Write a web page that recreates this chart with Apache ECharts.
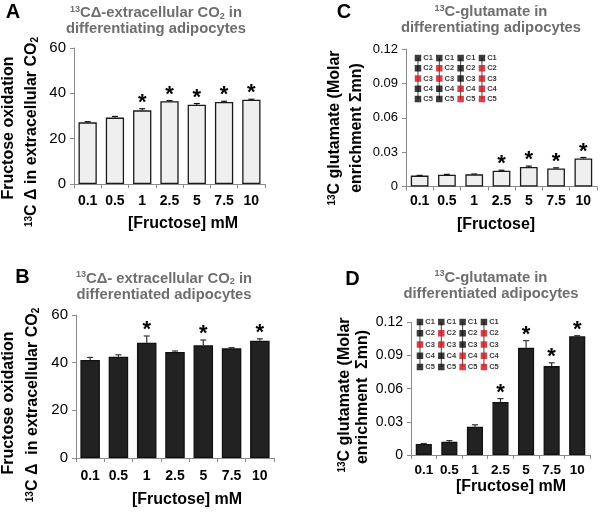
<!DOCTYPE html>
<html>
<head>
<meta charset="utf-8">
<script src="https://cdn.jsdelivr.net/npm/echarts@6/dist/echarts.min.js"></script>
<style>html,body{margin:0;padding:0;background:#fff}#c{width:600px;height:514px}</style>
</head>
<body>
<div id="c"></div>
<script>
// ---- data ----
const categories = ['0.1', '0.5', '1', '2.5', '5', '7.5', '10'];
const valuesA = [27.2, 29.3, 32.5, 36.5, 35.0, 36.2, 37.2];
const errorsA = [0.3, 0.5, 0.7, 0.3, 0.5, 0.3, 0.2];
const sigA = [0, 0, 1, 1, 1, 1, 1];
const valuesB = [41.1, 42.5, 48.4, 44.5, 47.3, 46.0, 49.2];
const errorsB = [1.1, 0.8, 2.8, 0.4, 2.2, 0.3, 0.8];
const sigB = [0, 0, 1, 0, 1, 0, 1];
const valuesC = [0.0095, 0.0103, 0.0106, 0.0138, 0.0170, 0.0158, 0.0245];
const errorsC = [0.0002, 0.0003, 0.0003, 0.0004, 0.0008, 0.0005, 0.0008];
const sigC = [0, 0, 0, 1, 1, 1, 1];
const valuesD = [0.0099, 0.0120, 0.0255, 0.0480, 0.0969, 0.0804, 0.1074];
const errorsD = [0.0005, 0.0010, 0.0018, 0.0030, 0.0065, 0.0030, 0.0005];
const sigD = [0, 0, 0, 1, 1, 1, 1];
const ticksAB = { min: 0, max: 60, interval: 20 };
const ticksCD = { min: 0, max: 0.12, interval: 0.03 };
const insetRows = ['C1', 'C2', 'C3', 'C4', 'C5'];
const insetLabelled = [[0, 0, 1, 0, 0], [0, 1, 1, 0, 0], [0, 0, 0, 1, 1], [0, 1, 1, 1, 1]];

// ---- styling ----
const FONT = '"Liberation Sans", Arial, Helvetica, sans-serif';
const AXC = '#8a8a8a';

const chart = echarts.init(document.getElementById('c'), null, { renderer: 'canvas' });

function grids() {
  return [
    { left: 74, top: 48, width: 191, height: 136 },
    { left: 76, top: 315, width: 198, height: 143 },
    { left: 406, top: 49, width: 191, height: 137.5 },
    { left: 411, top: 322.3, width: 179, height: 132.7 },
    { left: 407.3, top: 52.9, width: 85.3, height: 51.25 },
    { left: 409.3, top: 316.4, width: 85.3, height: 56.25 }
  ];
}

function xCat(gi, fs, margin, nameGap, pad) {
  return {
    type: 'category', gridIndex: gi, data: categories,
    axisLine: { lineStyle: { color: AXC, width: 1 } },
    axisTick: { show: true, length: 4, lineStyle: { color: AXC } },
    axisLabel: { color: '#000', fontWeight: 'bold', fontSize: fs, fontFamily: FONT, margin: margin, interval: 0 },
    name: gi === 2 ? '[Fructose]' : '[Fructose] mM',
    nameLocation: 'middle', nameGap: nameGap,
    nameTextStyle: { color: '#000', fontWeight: 'bold', fontSize: 16, fontFamily: FONT, padding: pad }
  };
}
function yVal(gi, ticks, fs, fmt) {
  return {
    type: 'value', gridIndex: gi, min: ticks.min, max: ticks.max, interval: ticks.interval,
    axisLine: { show: true, lineStyle: { color: AXC, width: 1 } },
    axisTick: { show: true, length: 4, lineStyle: { color: AXC } },
    splitLine: { show: false },
    axisLabel: { color: '#000', fontSize: fs, fontFamily: FONT, margin: 8, formatter: fmt }
  };
}
const fmtCD = v => (v === 0 ? '0' : v.toFixed(2));

function barSeries(gi, values, fill, border, gap) {
  return {
    type: 'bar', xAxisIndex: gi, yAxisIndex: gi, data: values, barCategoryGap: gap,
    itemStyle: { color: fill, borderColor: border, borderWidth: 1.3 },
    silent: true, animation: false
  };
}
function errSeries(gi, values, errors, sig, color) {
  return {
    type: 'custom', xAxisIndex: gi, yAxisIndex: gi, animation: false, silent: true,
    data: values.map((v, i) => [i, v, errors[i], sig[i]]),
    encode: { x: 0, y: 1 },
    renderItem: function (params, api) {
      const i = api.value(0), v = api.value(1), e = api.value(2), s = api.value(3);
      const base = api.coord([i, v]);
      const top = api.coord([i, v + e]);
      const children = [
        { type: 'line', shape: { x1: base[0], y1: base[1], x2: top[0], y2: top[1] }, style: { stroke: color, lineWidth: 1.2 } },
        { type: 'line', shape: { x1: top[0] - 3, y1: top[1], x2: top[0] + 3, y2: top[1] }, style: { stroke: color, lineWidth: 1.2 } }
      ];
      if (s) {
        children.push({ type: 'text', x: top[0], y: top[1] - 6,
          style: { text: '*', fill: '#000', font: 'bold 22px ' + FONT, align: 'center', verticalAlign: 'middle' } });
      }
      return { type: 'group', children: children };
    }
  };
}
function insetAxes(gi) {
  return {
    x: { type: 'value', gridIndex: gi, min: -0.5, max: 3.5, show: false },
    y: { type: 'value', gridIndex: gi, min: -0.5, max: 4.5, inverse: true, show: false }
  };
}
function insetSeries(gi) {
  const pts = [];
  insetLabelled.forEach((col, c) => col.forEach((lab, r) => {
    pts.push({ value: [c, r], itemStyle: { color: lab ? '#c8141c' : '#0a0a0a' } });
  }));
  return [
    {
      type: 'custom', xAxisIndex: gi, yAxisIndex: gi, animation: false, silent: true,
      data: insetLabelled.map((col, c) => [c]),
      encode: { x: 0 },
      renderItem: function (params, api) {
        const c = api.value(0);
        const a = api.coord([c, 0]), b = api.coord([c, insetRows.length - 1]);
        return { type: 'line', shape: { x1: a[0], y1: a[1], x2: b[0], y2: b[1] }, style: { stroke: '#444', lineWidth: 1 } };
      }
    },
    {
      type: 'scatter', xAxisIndex: gi, yAxisIndex: gi, animation: false, silent: true,
      symbol: 'rect', symbolSize: 6.5, data: pts,
      label: { show: true, position: 'right', distance: 2, fontSize: 7.5, fontWeight: 'bold', color: '#000', fontFamily: FONT,
        formatter: p => insetRows[p.value[1]] }
    }
  ];
}

const insC = insetAxes(4), insD = insetAxes(5);

function yTitle(x, y, text, fs) {
  return { type: 'text', x: x, y: y, rotation: Math.PI / 2, silent: true,
    style: { text: text, fill: '#000', font: 'bold ' + fs + 'px ' + FONT, align: 'center', verticalAlign: 'middle',
      rich: { sup: { fontSize: 10, fontWeight: 'bold', fontFamily: FONT, verticalAlign: 'top', fill: '#000' },
              sub: { fontSize: 10, fontWeight: 'bold', fontFamily: FONT, verticalAlign: 'bottom', fill: '#000' },
              n: { fontSize: fs, fontWeight: 'bold', fontFamily: FONT, fill: '#000' } } } };
}

const TFS = 14.8, TLH = 16, TCOL = '#6e6e6e';
function panelTitle(x, top, text) {
  return { text: text, left: x, top: top, textAlign: 'center', padding: 0,
    textStyle: { color: TCOL, fontSize: TFS, fontWeight: 'bold', fontFamily: FONT, lineHeight: TLH,
      rich: { sup: { fontSize: 9, fontWeight: 'bold', color: TCOL, verticalAlign: 'top', lineHeight: TLH, fontFamily: FONT },
              sub: { fontSize: 9, fontWeight: 'bold', color: TCOL, verticalAlign: 'bottom', lineHeight: TLH, fontFamily: FONT },
              n: { fontSize: TFS, fontWeight: 'bold', color: TCOL, lineHeight: TLH, fontFamily: FONT } } } };
}
function letter(x, top, text) {
  return { text: text, left: x, top: top, textAlign: 'center', padding: 0,
    textStyle: { color: '#000', fontSize: 20, fontWeight: 'bold', fontFamily: FONT } };
}

const option = {
  backgroundColor: '#fff',
  animation: false,
  title: [
    letter(13, 2, 'A'), letter(22.5, 267, 'B'), letter(344, 2, 'C'), letter(352.5, 269, 'D'),
    panelTitle(156, 5, '{sup|13}{n|CΔ-extracellular CO}{sub|2}{n| in}\n{n|differentiating adipocytes}'),
    panelTitle(164, 270.5, '{sup|13}{n|CΔ- extracellular CO}{sub|2}{n| in}\n{n|differentiated adipocytes}'),
    panelTitle(491, 4, '{sup|13}{n|C-glutamate in}\n{n|differentiating adipocytes}'),
    panelTitle(491, 269.5, '{sup|13}{n|C-glutamate in}\n{n|differentiated adipocytes}')
  ],
  grid: grids(),
  xAxis: [
    xCat(0, 14, 10, 32, [0, 0, 0, 27]),
    xCat(1, 14, 11, 34, [0, 0, 0, 24]),
    xCat(2, 14, 8, 30.5, [0, 11, 0, 0]),
    xCat(3, 13.5, 8, 24, [0, 0, 0, 21]),
    insC.x, insD.x
  ],
  yAxis: [
    yVal(0, ticksAB, 15),
    yVal(1, ticksAB, 15),
    yVal(2, ticksCD, 13, fmtCD),
    yVal(3, ticksCD, 14, fmtCD),
    insC.y, insD.y
  ],
  series: [
    barSeries(0, valuesA, '#efefef', '#1a1a1a', '33%'),
    errSeries(0, valuesA, errorsA, sigA, '#111'),
    barSeries(1, valuesB, '#222222', '#111', '31%'),
    errSeries(1, valuesB, errorsB, sigB, '#333'),
    barSeries(2, valuesC, '#efefef', '#1a1a1a', '35%'),
    errSeries(2, valuesC, errorsC, sigC, '#111'),
    barSeries(3, valuesD, '#222222', '#111', '37%'),
    errSeries(3, valuesD, errorsD, sigD, '#333'),
    ...insetSeries(4),
    ...insetSeries(5)
  ],
  graphic: [
    yTitle(9, 128, '{n|Fructose oxidation}', 16),
    yTitle(32, 132, '{sup|13}{n|C Δ in extracellular CO}{sub|2}', 16),
    yTitle(8.5, 403, '{n|Fructose oxidation}', 16),
    yTitle(33, 405, '{sup|13}{n|C Δ  in extracellular CO}{sub|2}', 16),
    yTitle(335, 128, '{sup|13}{n|C glutamate (Molar}', 16),
    yTitle(356.5, 128, '{n|enrichment Σmn)}', 16),
    yTitle(345, 395, '{sup|13}{n|C glutamate (Molar}', 16),
    yTitle(363, 397, '{n|enrichment  Σmn)}', 16)
  ]
};
chart.setOption(option);
</script>
</body>
</html>
